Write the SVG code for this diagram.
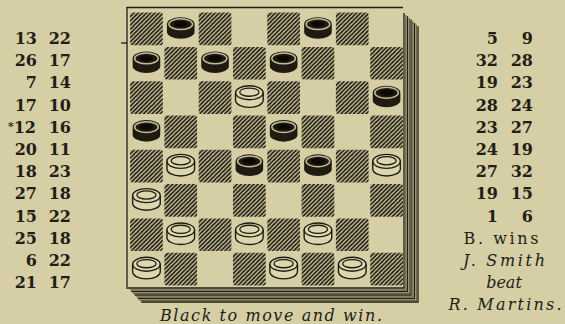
<svg xmlns="http://www.w3.org/2000/svg" width="565" height="324" viewBox="0 0 565 324">
<style>
.n{font-family:"DejaVu Serif","Liberation Serif",serif;font-weight:bold;font-size:16px;fill:#231e14}
.e{text-anchor:end}
.r{font-family:"DejaVu Serif","Liberation Serif",serif;font-size:16px;fill:#231e14;text-anchor:middle}
.it{font-family:"DejaVu Serif","Liberation Serif",serif;font-style:italic;font-size:16px;fill:#231e14;text-anchor:middle}
.fr{fill:none;stroke:#231e14;stroke-width:1.3}
</style>
<defs>
<pattern id="hatch" patternUnits="userSpaceOnUse" width="4.2" height="4.2">
<path d="M0,4.2 L4.2,0 M-1.05,1.05 L1.05,-1.05 M3.15,5.25 L5.25,3.15" stroke="#231e14" stroke-width="1.7"/>
</pattern>
<rect id="sq" width="32.7" height="32.7" rx="2" fill="url(#hatch)"/>
<path id="body" d="M-13.8,-3.8 A13.8,7 0 0 1 13.8,-3.8 L13.8,3.8 A13.8,7 0 0 1 -13.8,3.8 Z"/>
<g id="bp">
<use href="#body" fill="#1f1a12"/>
<ellipse cx="0" cy="-3.8" rx="11.8" ry="5.4" fill="none" stroke="#c4bd98" stroke-width="1.5"/>
<ellipse cx="0" cy="-3.9" rx="7" ry="2.9" fill="#0b0905"/>
</g>
<g id="wp">
<use href="#body" fill="#ddd7af" stroke="#1f1a12" stroke-width="1.4"/>
<path d="M-13.8,-3.8 A13.8,7 0 0 0 13.8,-3.8" fill="none" stroke="#1f1a12" stroke-width="1.3"/>
<ellipse cx="0" cy="-4.4" rx="9.6" ry="4.1" fill="none" stroke="#1f1a12" stroke-width="1.3"/>
</g>
</defs>
<rect width="565" height="324" fill="#d6cfa5"/>

<g id="left-moves">
<text class="n e" x="37" y="44">13</text><text class="n e" x="71" y="44">22</text>
<text class="n e" x="37" y="66.2">26</text><text class="n e" x="71" y="66.2">17</text>
<text class="n e" x="37" y="88.4">7</text><text class="n e" x="71" y="88.4">14</text>
<text class="n e" x="37" y="110.6">17</text><text class="n e" x="71" y="110.6">10</text>
<text class="n e" x="36" y="132.8"><tspan font-size="11" dy="-3">*</tspan><tspan dy="3">12</tspan></text><text class="n e" x="71" y="132.8">16</text>
<text class="n e" x="37" y="155">20</text><text class="n e" x="71" y="155">11</text>
<text class="n e" x="37" y="177.2">18</text><text class="n e" x="71" y="177.2">23</text>
<text class="n e" x="37" y="199.4">27</text><text class="n e" x="71" y="199.4">18</text>
<text class="n e" x="37" y="221.6">15</text><text class="n e" x="71" y="221.6">22</text>
<text class="n e" x="37" y="243.8">25</text><text class="n e" x="71" y="243.8">18</text>
<text class="n e" x="37" y="266">6</text><text class="n e" x="71" y="266">22</text>
<text class="n e" x="37" y="288.2">21</text><text class="n e" x="71" y="288.2">17</text>
</g>

<g id="right-moves">
<text class="n e" x="498" y="44">5</text><text class="n e" x="533" y="44">9</text>
<text class="n e" x="498" y="66.2">32</text><text class="n e" x="533" y="66.2">28</text>
<text class="n e" x="498" y="88.4">19</text><text class="n e" x="533" y="88.4">23</text>
<text class="n e" x="498" y="110.6">28</text><text class="n e" x="533" y="110.6">24</text>
<text class="n e" x="498" y="132.8">23</text><text class="n e" x="533" y="132.8">27</text>
<text class="n e" x="498" y="155">24</text><text class="n e" x="533" y="155">19</text>
<text class="n e" x="498" y="177.2">27</text><text class="n e" x="533" y="177.2">32</text>
<text class="n e" x="498" y="199.4">19</text><text class="n e" x="533" y="199.4">15</text>
<text class="n e" x="498" y="221.6">1</text><text class="n e" x="533" y="221.6">6</text>
<text class="r" x="501" y="243.8" textLength="75" lengthAdjust="spacing">B. wins</text>
<text class="it" x="504" y="266" textLength="82" lengthAdjust="spacing">J. Smith</text>
<text class="it" x="504" y="288.2">beat</text>
<text class="it" x="505" y="310.4" textLength="113" lengthAdjust="spacing">R. Martins.</text>
</g>

<g id="board-frame">
<line class="fr" x1="126.5" y1="7.5" x2="403" y2="7.5" stroke-width="2.2"/>
<line class="fr" x1="127" y1="7" x2="127" y2="289" stroke-width="1.8"/>
<line class="fr" x1="121" y1="43" x2="127" y2="43" stroke-width="1"/>
<polyline class="fr" points="404,13 404,288 128,288"/>
<polyline class="fr" points="407.5,16.3 407.5,291.5 131.3,291.5"/>
<polyline class="fr" points="411,19.6 411,295 134.6,295"/>
<polyline class="fr" points="414.5,22.9 414.5,298.5 137.9,298.5"/>
<polyline class="fr" points="418,26.2 418,302 141.2,302" stroke-width="1.6"/>
<polyline class="fr" points="405.8,15 405.8,289.8 130,289.8" stroke-width="0.6" opacity="0.6"/>
<polyline class="fr" points="409.3,18 409.3,293.3 133,293.3" stroke-width="0.6" opacity="0.6"/>
<polyline class="fr" points="412.8,21.3 412.8,296.8 136.3,296.8" stroke-width="0.6" opacity="0.6"/>
<polyline class="fr" points="416.3,24.6 416.3,300.3 139.6,300.3" stroke-width="0.6" opacity="0.6"/>
</g>

<g id="squares">
<use href="#sq" x="130.1" y="12.6"/><use href="#sq" x="198.7" y="12.6"/><use href="#sq" x="267.3" y="12.6"/><use href="#sq" x="335.9" y="12.6"/>
<use href="#sq" x="164.4" y="46.9"/><use href="#sq" x="233" y="46.9"/><use href="#sq" x="301.6" y="46.9"/><use href="#sq" x="370.2" y="46.9"/>
<use href="#sq" x="130.1" y="81.2"/><use href="#sq" x="198.7" y="81.2"/><use href="#sq" x="267.3" y="81.2"/><use href="#sq" x="335.9" y="81.2"/>
<use href="#sq" x="164.4" y="115.5"/><use href="#sq" x="233" y="115.5"/><use href="#sq" x="301.6" y="115.5"/><use href="#sq" x="370.2" y="115.5"/>
<use href="#sq" x="130.1" y="149.8"/><use href="#sq" x="198.7" y="149.8"/><use href="#sq" x="267.3" y="149.8"/><use href="#sq" x="335.9" y="149.8"/>
<use href="#sq" x="164.4" y="184.1"/><use href="#sq" x="233" y="184.1"/><use href="#sq" x="301.6" y="184.1"/><use href="#sq" x="370.2" y="184.1"/>
<use href="#sq" x="130.1" y="218.4"/><use href="#sq" x="198.7" y="218.4"/><use href="#sq" x="267.3" y="218.4"/><use href="#sq" x="335.9" y="218.4"/>
<use href="#sq" x="164.4" y="252.7"/><use href="#sq" x="233" y="252.7"/><use href="#sq" x="301.6" y="252.7"/><use href="#sq" x="370.2" y="252.7"/>
</g>

<g id="black-pieces">
<use href="#bp" x="180.75" y="27.95"/><use href="#bp" x="317.95" y="27.95"/>
<use href="#bp" x="146.45" y="62.25"/><use href="#bp" x="215.05" y="62.25"/><use href="#bp" x="283.65" y="62.25"/>
<use href="#bp" x="386.55" y="96.55"/>
<use href="#bp" x="146.45" y="130.85"/><use href="#bp" x="283.65" y="130.85"/>
<use href="#bp" x="249.35" y="165.15"/><use href="#bp" x="317.95" y="165.15"/>
</g>

<g id="white-pieces">
<use href="#wp" x="249.35" y="96.55"/>
<use href="#wp" x="180.75" y="165.15"/><use href="#wp" x="386.55" y="165.15"/>
<use href="#wp" x="146.45" y="199.45"/>
<use href="#wp" x="180.75" y="233.75"/><use href="#wp" x="249.35" y="233.75"/><use href="#wp" x="317.95" y="233.75"/>
<use href="#wp" x="146.45" y="268.05"/><use href="#wp" x="283.65" y="268.05"/><use href="#wp" x="352.25" y="268.05"/>
</g>

<text id="caption" class="it" x="271" y="321" font-size="16.5" textLength="222" lengthAdjust="spacing">Black to move and win.</text>
</svg>
